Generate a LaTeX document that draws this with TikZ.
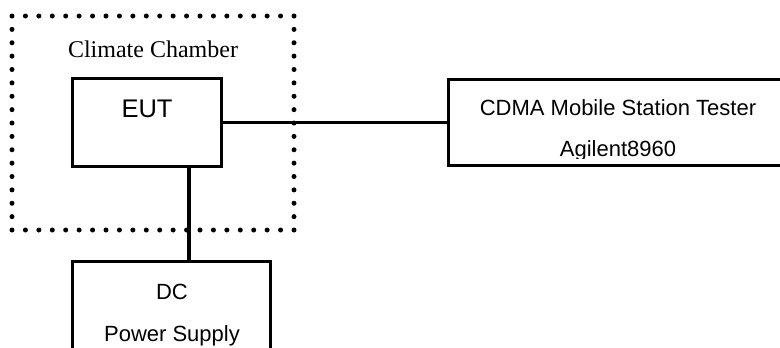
\documentclass[tikz,border=0pt]{standalone}
\usepackage{fontspec}
\setmainfont{Liberation Serif}
\newfontfamily\arialfam{Liberation Sans}
\begin{document}
\begin{tikzpicture}[x=1bp,y=-1bp,
  box/.style={draw,line width=3.4bp,inner sep=0pt},
  wire/.style={line width=3.2bp},
  sanstext/.style={font=\arialfam\fontsize{22bp}{26bp}\selectfont,inner sep=0pt,anchor=base},
  dotmark/.style={fill=black}]
\useasboundingbox (0,0) rectangle (780,347);
\clip (0,0) rectangle (780,347);
% dotted chamber outline
\foreach \i in {0,...,21} {
  \fill[dotmark] ({12+\i*282/21},16) circle (2.5bp);
  \fill[dotmark] ({12+\i*282/21},230) circle (2.5bp);
}
\foreach \i in {1,...,15} {
  \fill[dotmark] (12,{16+\i*214/16}) circle (2.5bp);
  \fill[dotmark] (294,{16+\i*214/16}) circle (2.5bp);
}
\node[font=\fontsize{24bp}{28bp}\selectfont,inner sep=0pt,anchor=base] (cc) at (153,57) {Climate Chamber};
% boxes
\node[box,minimum width=149bp,minimum height=88bp] (eut) at (147,122.5) {};
\node[box,minimum width=341.5bp,minimum height=86bp] (cdma) at (619.25,122.5) {};
\node[box,minimum width=198bp,minimum height=98.5bp] (dc) at (171.5,310.75) {};
% texts
\node[sanstext,font=\arialfam\fontsize{25.5bp}{30bp}\selectfont] (eutt) at (147,117) {EUT};
\node[sanstext] (cdmat) at (618,115.5) {CDMA Mobile Station Tester};
\begin{scope}
  \clip (449,80) rectangle (790,158.5);
  \node[sanstext] (agt) at (618,156.5) {Agilent8960};
\end{scope}
\node[sanstext] (dct) at (172,299) {DC};
\node[sanstext] (pst) at (172,341.5) {Power Supply};
% connectors
\coordinate (tap) at (189,0);
\draw[wire] (eut.east) -- (cdma.west);
\draw[wire] (eut.south -| tap) -- (dc.north -| tap);
\end{tikzpicture}
\end{document}
